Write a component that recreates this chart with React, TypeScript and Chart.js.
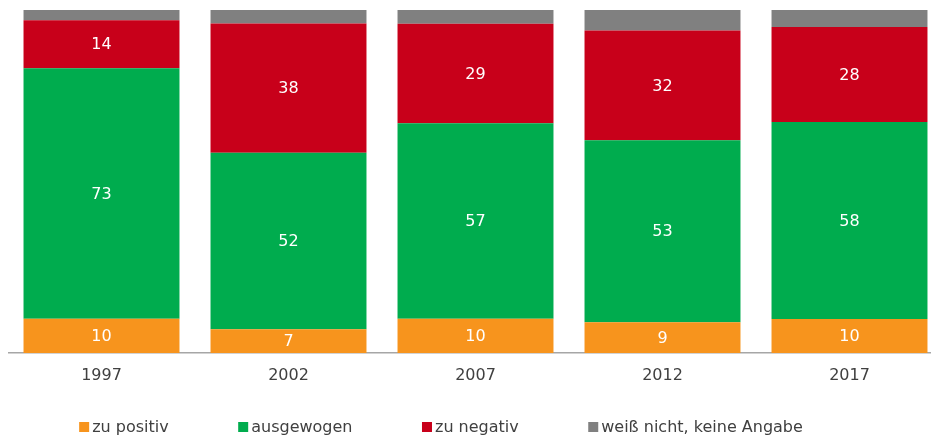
import React, { useEffect, useRef } from "react";
import { Chart, registerables } from "chart.js";

Chart.register(...registerables);

const categories = ["1997", "2002", "2007", "2012", "2017"];
const zuPositiv = [10, 7, 10, 9, 10];
const ausgewogen = [73, 52, 57, 53, 58];
const zuNegativ = [14, 38, 29, 32, 28];
const weissNicht = [3, 4, 4, 6, 5];
const seriesNames = ["zu positiv", "ausgewogen", "zu negativ", "weiß nicht, keine Angabe"];
const seriesColors = ["#F7941D", "#00AC4E", "#C8001A", "#808080"];
const labeledSeries = [true, true, true, false];

const FONT = "'DejaVu Sans', Verdana, sans-serif";

export default function App() {
  const ref = useRef<HTMLCanvasElement | null>(null);

  useEffect(() => {
    if (!ref.current) return;
    const raw = [zuPositiv, ausgewogen, zuNegativ, weissNicht];
    const totals = categories.map((_, i) => raw.reduce((s, arr) => s + arr[i], 0));
    const datasets = raw.map((arr, k) => ({
      label: seriesNames[k],
      data: arr.map((v, i) => (v / totals[i]) * 100),
      rawValues: arr,
      backgroundColor: seriesColors[k],
      borderWidth: 0,
      barPercentage: 0.834,
      categoryPercentage: 1,
    }));

    const labelPlugin = {
      id: "barLabels",
      afterDatasetsDraw(chart: any) {
        const ctx = chart.ctx;
        ctx.save();
        ctx.font = `16px ${FONT}`;
        ctx.fillStyle = "#ffffff";
        ctx.textAlign = "center";
        ctx.textBaseline = "middle";
        chart.data.datasets.forEach((ds: any, k: number) => {
          if (!labeledSeries[k]) return;
          const meta = chart.getDatasetMeta(k);
          meta.data.forEach((bar: any, i: number) => {
            const p = bar.getProps(["x", "y", "base"], true);
            ctx.fillText(String(ds.rawValues[i]), p.x, (p.y + p.base) / 2 + 1);
          });
        });
        ctx.restore();
      },
    };

    const legendPlugin = {
      id: "customLegend",
      afterDraw(chart: any) {
        const ctx = chart.ctx;
        ctx.save();
        ctx.font = `16px ${FONT}`;
        const box = 10;
        const gap = 3;
        const itemGap = 69.5;
        const widths = seriesNames.map((n) => box + gap + ctx.measureText(n).width);
        const total = widths.reduce((a, b) => a + b, 0) + itemGap * (seriesNames.length - 1);
        let x = 433 - total / 2;
        const y = 419;
        ctx.textBaseline = "middle";
        ctx.textAlign = "left";
        seriesNames.forEach((n, k) => {
          ctx.fillStyle = seriesColors[k];
          ctx.fillRect(x, y - 5, box, box);
          ctx.fillStyle = "#404040";
          ctx.fillText(n, x + box + gap, y + 1);
          x += widths[k] + itemGap;
        });
        ctx.restore();
      },
    };

    const chart = new Chart(ref.current, {
      type: "bar",
      data: { labels: categories, datasets: datasets as any },
      options: {
        animation: false,
        responsive: false,
        maintainAspectRatio: false,
        layout: { padding: { top: 2, left: 0, right: 0, bottom: 52 } },
        plugins: {
          legend: { display: false },
          tooltip: { enabled: false },
        },
        scales: {
          x: {
            stacked: true,
            grid: { display: false, drawTicks: false },
            border: { display: true, color: "#A6A6A6", width: 1.5 },
            ticks: {
              color: "#404040",
              font: { family: FONT, size: 16 },
              padding: 13,
            },
            afterFit(scale: any) {
              scale.height = 33;
            },
          },
          y: {
            stacked: true,
            display: false,
            min: 0,
            max: 100,
          },
        },
      },
      plugins: [labelPlugin, legendPlugin],
    });
    return () => chart.destroy();
  }, []);

  return (
    <div style={{ position: "absolute", left: 8, top: 8, width: 923, height: 430, overflow: "hidden" }}>
      <canvas ref={ref} width={935} height={430} style={{ display: "block" }} />
    </div>
  );
}
